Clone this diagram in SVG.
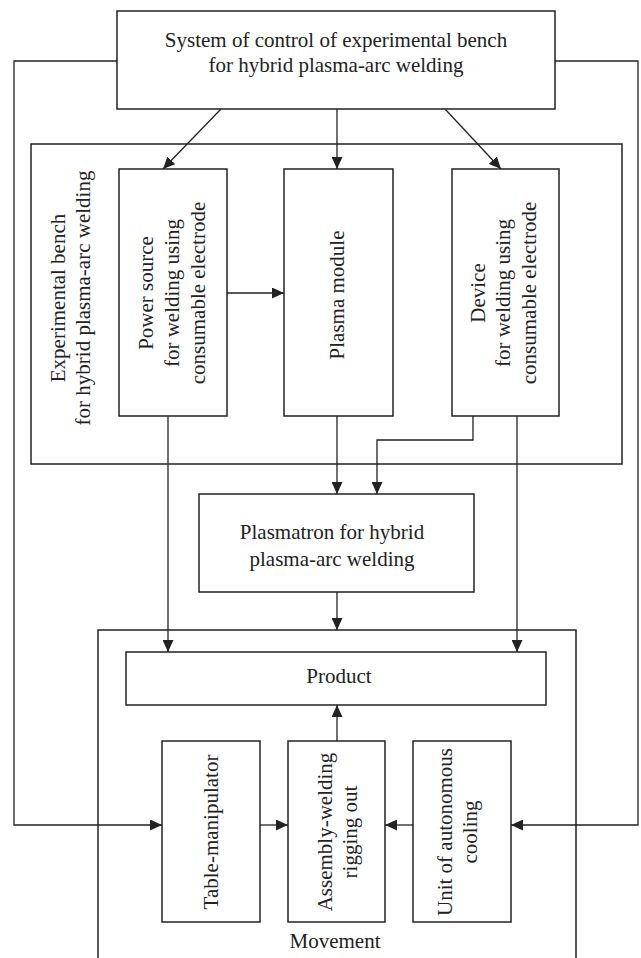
<svg xmlns="http://www.w3.org/2000/svg" width="641" height="958" viewBox="0 0 641 958">
<defs>
<marker id="arr" markerUnits="userSpaceOnUse" markerWidth="12" markerHeight="11" refX="12" refY="5.5" orient="auto">
<path d="M0,0 L12,5.5 L0,11 z" fill="#222"/>
</marker>
<style>
.b{fill:#fff;stroke:#222;stroke-width:1.5}
.f{fill:none;stroke:#222;stroke-width:1.5}
.c{fill:none;stroke:#222;stroke-width:1.3}
.a{marker-end:url(#arr)}
text{font-family:"Liberation Serif","Times New Roman",serif;font-size:21px;fill:#222;text-anchor:middle}
</style>
</defs>
<rect x="0" y="0" width="641" height="958" fill="#fff"/>
<g id="bench">
<rect class="f" x="31" y="144" width="591" height="320"/>
<text transform="translate(65,298) rotate(-90)">Experimental bench</text>
<text transform="translate(90,298) rotate(-90)">for hybrid plasma-arc welding</text>
</g>
<g id="movement">
<path class="f" d="M98,958 V630 H576 V958"/>
<text x="335" y="948">Movement</text>
</g>
<g id="connectors">
<path class="c" d="M117,61 H14 V825 H162" marker-end="url(#arr)"/>
<path class="c" d="M555,61 H638 V825 H511" marker-end="url(#arr)"/>
<path class="c a" d="M221,109 L163,169"/>
<path class="c a" d="M337,109 V169"/>
<path class="c a" d="M445,109 L501,169"/>
<path class="c a" d="M227,293 H284"/>
<path class="c a" d="M168,416 V652"/>
<path class="c a" d="M337,416 V494"/>
<path class="c a" d="M473,416 V440 H377 V494"/>
<path class="c a" d="M517,416 V652"/>
<path class="c a" d="M337,592 V630"/>
<path class="c a" d="M337,741 V705"/>
<path class="c a" d="M260,825 H288"/>
<path class="c a" d="M413,825 H385"/>
</g>
<g id="control">
<rect class="b" x="117" y="11" width="438" height="98"/>
<text x="336" y="47">System of control of experimental bench</text>
<text x="336" y="72">for hybrid plasma-arc welding</text>
</g>
<g id="power">
<rect class="b" x="119" y="169" width="108" height="247"/>
<text transform="translate(153,293) rotate(-90)">Power source</text>
<text transform="translate(179,293) rotate(-90)">for welding using</text>
<text transform="translate(205,293) rotate(-90)">consumable electrode</text>
</g>
<g id="plasma">
<rect class="b" x="284" y="169" width="109" height="247"/>
<text transform="translate(344,295) rotate(-90)">Plasma module</text>
</g>
<g id="device">
<rect class="b" x="452" y="169" width="107" height="247"/>
<text transform="translate(485,293) rotate(-90)">Device</text>
<text transform="translate(510,293) rotate(-90)">for welding using</text>
<text transform="translate(536,293) rotate(-90)">consumable electrode</text>
</g>
<g id="plasmatron">
<rect class="b" x="199" y="494" width="275" height="98"/>
<text x="332" y="539">Plasmatron for hybrid</text>
<text x="332" y="566">plasma-arc welding</text>
</g>
<g id="product">
<rect class="b" x="126" y="652" width="420" height="53"/>
<text x="339" y="683">Product</text>
</g>
<g id="table">
<rect class="b" x="162" y="741" width="98" height="181"/>
<text transform="translate(218,832) rotate(-90)">Table-manipulator</text>
</g>
<g id="assembly">
<rect class="b" x="288" y="741" width="97" height="181"/>
<text transform="translate(332,832) rotate(-90)">Assembly-welding</text>
<text transform="translate(357,832) rotate(-90)">rigging out</text>
</g>
<g id="cooling">
<rect class="b" x="413" y="741" width="98" height="181"/>
<text transform="translate(452,832) rotate(-90)">Unit of autonomous</text>
<text transform="translate(477,832) rotate(-90)">cooling</text>
</g>
</svg>
